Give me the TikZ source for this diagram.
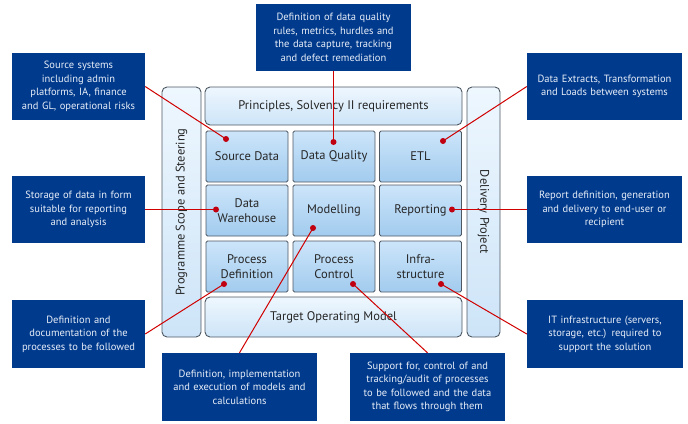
\documentclass[tikz,border=0pt]{standalone}
\usepackage{fontspec}
\setmainfont{PT Sans}
\usetikzlibrary{positioning}
\definecolor{callbg}{HTML}{003A8C}
\definecolor{calltxt}{HTML}{E8EEF8}
\definecolor{linkred}{HTML}{D00000}
\definecolor{dotred}{HTML}{C00010}
\definecolor{celltop}{HTML}{CCE5FA}
\definecolor{cellbot}{HTML}{A2CBEE}
\definecolor{bartop}{HTML}{EEF7FE}
\definecolor{barbot}{HTML}{CDE4F8}
\definecolor{edge}{HTML}{4E5862}
\begin{document}
\begin{tikzpicture}[x=1pt,y=-1pt,
  callout/.style={fill=callbg,text=calltxt,align=center,inner sep=2pt,font=\fontsize{10.5}{13.5}\selectfont,minimum height=67pt},
  cell/.style={draw=edge,line width=0.9pt,rounded corners=1.5pt,top color=celltop,bottom color=cellbot,minimum width=82pt,minimum height=51pt,align=center,font=\fontsize{12.5}{15.5}\selectfont,text=black!85,inner sep=1pt},
  bar/.style={draw=edge,line width=0.9pt,rounded corners=5pt,top color=bartop,bottom color=barbot,align=center,font=\fontsize{12.5}{15}\selectfont,text=black!85},
  link/.style={draw=linkred,line width=1pt},
  dot/.style={fill=dotred,circle,inner sep=0pt,minimum size=6pt}]
\useasboundingbox (0,0) rectangle (688,423);
% frame bars
\node[bar,minimum width=39pt,minimum height=250pt] (prog) at (181.5,212) {};
\node[rotate=90,font=\fontsize{12.5}{15}\selectfont,text=black!85] (progt) at (181.5,212) {Programme Scope and Steering};
\node[bar,minimum width=33pt,minimum height=250pt] (deliv) at (483.5,212) {};
\node[rotate=-90,font=\fontsize{12.5}{15}\selectfont,text=black!85] (delivt) at (483.5,212) {Delivery Project};
\node[bar,minimum width=257pt,minimum height=38pt] (princ) at (333.5,106) {Principles, Solvency II requirements};
\node[bar,minimum width=257pt,minimum height=40pt] (tom) at (333.5,317) {Target Operating Model};
% cells
\node[cell] (src) at (247,156.5) {Source Data};
\node[cell] (dq) at (334,156.5) {Data Quality};
\node[cell] (etl) at (420.5,156.5) {ETL};
\node[cell] (dw) at (247,210.5) {Data\\Warehouse};
\node[cell] (mod) at (334,210.5) {Modelling};
\node[cell] (rep) at (420.5,210.5) {Reporting};
\node[cell] (pd) at (247,266.5) {Process\\Definition};
\node[cell] (pc) at (334,266.5) {Process\\Control};
\node[cell] (inf) at (420.5,266.5) {Infra-\\structure};
% callouts
\node[callout,minimum width=133pt,text width=125pt] (csrc) at (78.5,86.5) {Source systems\\including admin\\platforms, IA, finance\\and GL, operational risks};
\node[callout,minimum width=155pt,text width=147pt] (cdq) at (333.5,37.5) {Definition of data quality\\rules, metrics, hurdles and\\the data capture, tracking\\and defect remediation};
\node[callout,minimum width=155pt,text width=147pt] (cetl) at (604.5,86.5) {Data Extracts, Transformation\\and Loads between systems};
\node[callout,minimum width=133pt,text width=125pt] (cdw) at (78.5,209.5) {Storage of data in form\\suitable for reporting\\and analysis};
\node[callout,minimum width=155pt,text width=147pt] (crep) at (604.5,209.5) {Report definition, generation\\and delivery to end-user or\\recipient};
\node[callout,minimum width=133pt,text width=125pt,minimum height=68pt] (cpd) at (78.5,334) {Definition and\\documentation of the\\processes to be followed};
\node[callout,minimum width=155pt,text width=147pt,minimum height=68pt] (cmod) at (239.5,387) {Definition, implementation\\and execution of models and\\calculations};
\node[callout,minimum width=155pt,text width=147pt,minimum height=68pt] (cpc) at (427.5,387) {Support for, control of and\\tracking/audit of processes\\to be followed and the data\\that flows through them};
\node[callout,minimum width=156pt,text width=148pt,minimum height=68pt] (cinf) at (605,334) {IT infrastructure (servers,\\storage, etc.) required to\\support the solution};
% dots
\coordinate (dsrc) at (226,139);
\coordinate (ddq) at (333.5,142);
\coordinate (detl) at (443,141);
\coordinate (ddw) at (216,209.5);
\coordinate (dmod) at (313,228);
\coordinate (drep) at (452,209.5);
\coordinate (dpd) at (224,284);
\coordinate (dpc) at (353,284);
\coordinate (dinf) at (441,284);
% links
\draw[link] (csrc.east) -- (dsrc);
\draw[link] (cdq.south) -- (ddq);
\draw[link] (cetl.west) -- (detl);
\draw[link] (cdw.east) -- (ddw);
\draw[link] (crep.west) -- (drep);
\draw[link] (cpd.east) -- (dpd);
\draw[link] (cmod.north) -- (dmod);
\draw[link] (cpc.north) -- (dpc);
\draw[link] (cinf.west) -- (dinf);
\foreach \d in {dsrc,ddq,detl,ddw,dmod,drep,dpd,dpc,dinf}
  \node[dot] at (\d) {};
\end{tikzpicture}
\end{document}
